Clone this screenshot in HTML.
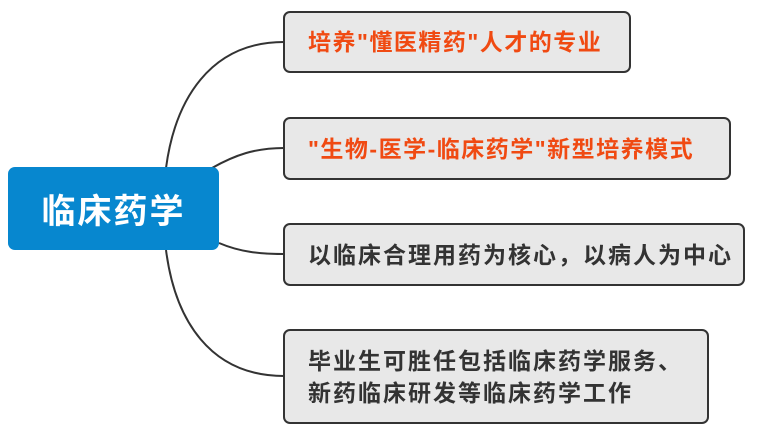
<!DOCTYPE html>
<html><head><meta charset="utf-8"><style>
body{margin:0;width:771px;height:430px;background:#fff;position:relative;overflow:hidden;font-family:"Liberation Sans","Noto Sans CJK SC",sans-serif;}
.b{position:absolute;box-sizing:border-box;background:#e8e8e8;border:2px solid #333;border-radius:7px;font-weight:bold;font-size:23px;letter-spacing:2px;color:#333;padding-left:23px;display:flex;align-items:center;line-height:32px;white-space:nowrap}
.r{color:#f04a12;letter-spacing:1.5px}
</style></head><body>
<svg width="771" height="430" style="position:absolute;left:0;top:0">
<g fill="none" stroke="#333" stroke-width="2">
<path d="M166 168 C175 100,210 42,284 42"/>
<path d="M212 168 C235 155,255 148,284 148"/>
<path d="M219 243 C240 252,260 254,284 254"/>
<path d="M166 250 C175 320,210 376,284 376"/>
</g></svg>
<div style="position:absolute;left:8px;top:167px;width:211px;height:83px;background:#0787cf;border-radius:7px;color:#fff;font-weight:bold;font-size:34px;letter-spacing:2px;display:flex;align-items:center;justify-content:center">临床药学</div>
<div class="b r" style="left:283px;top:11px;width:348px;height:62px">培养"懂医精药"人才的专业</div>
<div class="b r" style="left:283px;top:117px;width:448px;height:63px">"生物-医学-临床药学"新型培养模式</div>
<div class="b" style="left:283px;top:223px;width:462px;height:63px">以临床合理用药为核心，以病人为中心</div>
<div class="b" style="left:283px;top:329px;width:426px;height:95px">毕业生可胜任包括临床药学服务、<br>新药临床研发等临床药学工作</div>
</body></html>
